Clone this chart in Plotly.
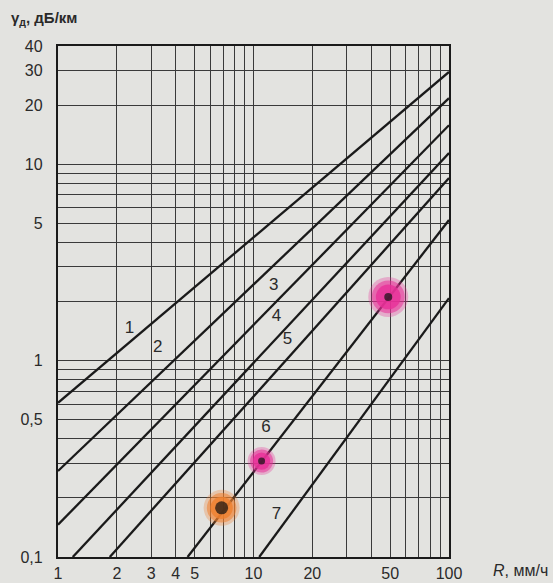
import plotly.graph_objects as go

# Attenuation lines gamma(R): each line given by its two end points (R, gamma)
line_ids = ["1", "2", "3", "4", "5", "6", "7"]
r_start = [1, 1, 1, 1.19, 1.84, 4.6, 10.7]
g_start = [0.61, 0.274, 0.146, 0.1, 0.1, 0.1, 0.1]
r_end = [100, 100, 100, 100, 100, 100, 100]
g_end = [29.5, 21.7, 15.8, 11.4, 8.5, 5.2, 2.08]

# Position of the number written next to each line
label_r = [2.32, 3.24, 12.7, 13.1, 14.9, 11.6, 13.1]
label_g = [1.45, 1.16, 2.4, 1.67, 1.27, 0.454, 0.164]

# Marked points (highlighted on the page)
mark_r = [6.87, 11.0, 48.9]
mark_g = [0.178, 0.308, 2.11]
mark_halo = ["#ef7f2e", "#e82f98", "#e82f98"]
mark_halo_size = [36, 28, 40]
mark_dot_size = [13, 7, 8]

# Axis grid / tick values
x_grid = [1, 2, 3, 4, 5, 6, 7, 8, 9, 10, 20, 30, 40, 50, 60, 70, 80, 90, 100]
x_labeled = {1: "1", 2: "2", 3: "3", 4: "4", 5: "5", 10: "10", 20: "20", 50: "50", 100: "100"}
y_grid = [0.1, 0.2, 0.3, 0.4, 0.5, 0.6, 0.7, 0.8, 0.9,
          1, 2, 3, 4, 5, 6, 7, 8, 9, 10, 20, 30, 40]
y_labeled = {0.1: "0,1", 0.5: "0,5", 1: "1", 5: "5", 10: "10", 20: "20", 30: "30", 40: "40"}

ink = "#1a1a1a"
grid_ink = "#3a3a3a"
paper = "#e3e3e0"
font_family = "Liberation Sans, Arial, sans-serif"

fig = go.Figure()

for i, name in enumerate(line_ids):
    fig.add_trace(go.Scatter(
        x=[r_start[i], r_end[i]], y=[g_start[i], g_end[i]],
        mode="lines", line=dict(color=ink, width=2.3),
        showlegend=False, hoverinfo="skip", cliponaxis=True,
    ))

# Soft highlighter halos, layered for a blurred edge
for scale, alpha in [(1.0, 0.3), (0.82, 0.55), (0.62, 0.8)]:
    fig.add_trace(go.Scatter(
        x=mark_r, y=mark_g, mode="markers",
        marker=dict(color=mark_halo, size=[s * scale for s in mark_halo_size],
                    opacity=alpha, line=dict(width=0)),
        showlegend=False, hoverinfo="skip",
    ))
fig.add_trace(go.Scatter(
    x=mark_r, y=mark_g, mode="markers",
    marker=dict(color="#111111", size=mark_dot_size, line=dict(width=0)),
    showlegend=False, hoverinfo="skip",
))

# Line numbers
fig.add_trace(go.Scatter(
    x=label_r, y=label_g, mode="text", text=line_ids,
    textfont=dict(family=font_family, size=17, color="#2a2a2a"),
    showlegend=False, hoverinfo="skip",
))

fig.add_annotation(
    x=0, y=1, xref="paper", yref="paper", xshift=-49, yshift=28,
    xanchor="left", yanchor="middle",
    text="<b>γ<sub>д</sub>, дБ/км</b>", showarrow=False,
    font=dict(family=font_family, size=15, color="#2a2a2a"),
)
fig.add_annotation(
    x=1, y=0, xref="paper", yref="paper", xshift=42, yshift=-13,
    xanchor="left", yanchor="middle",
    text="<i>R</i>, мм/ч", showarrow=False,
    font=dict(family=font_family, size=16, color="#2a2a2a"),
)

fig.update_xaxes(
    type="log", range=[0, 2], automargin=False,
    tickmode="array", tickvals=x_grid,
    ticktext=[x_labeled.get(v, "") for v in x_grid],
    showgrid=True, gridcolor=grid_ink, gridwidth=1.4,
    showline=True, linecolor=ink, linewidth=2.3, mirror=True,
    ticks="", ticklabelstandoff=1,
    tickfont=dict(family=font_family, size=16, color="#2a2a2a"),
    zeroline=False,
)
fig.update_yaxes(
    type="log", range=[-1, 1.60206], automargin=False,
    tickmode="array", tickvals=y_grid,
    ticktext=[y_labeled.get(v, "") for v in y_grid],
    showgrid=True, gridcolor=grid_ink, gridwidth=1.4,
    showline=True, linecolor=ink, linewidth=2.3, mirror=True,
    ticks="", ticklabelstandoff=10,
    tickfont=dict(family=font_family, size=16, color="#2a2a2a"),
    zeroline=False,
)

fig.update_layout(
    width=553, height=583,
    margin=dict(l=58, r=104, t=46, b=26, autoexpand=False),
    paper_bgcolor=paper, plot_bgcolor=paper,
    showlegend=False,
)

fig.write_html("out.html")
